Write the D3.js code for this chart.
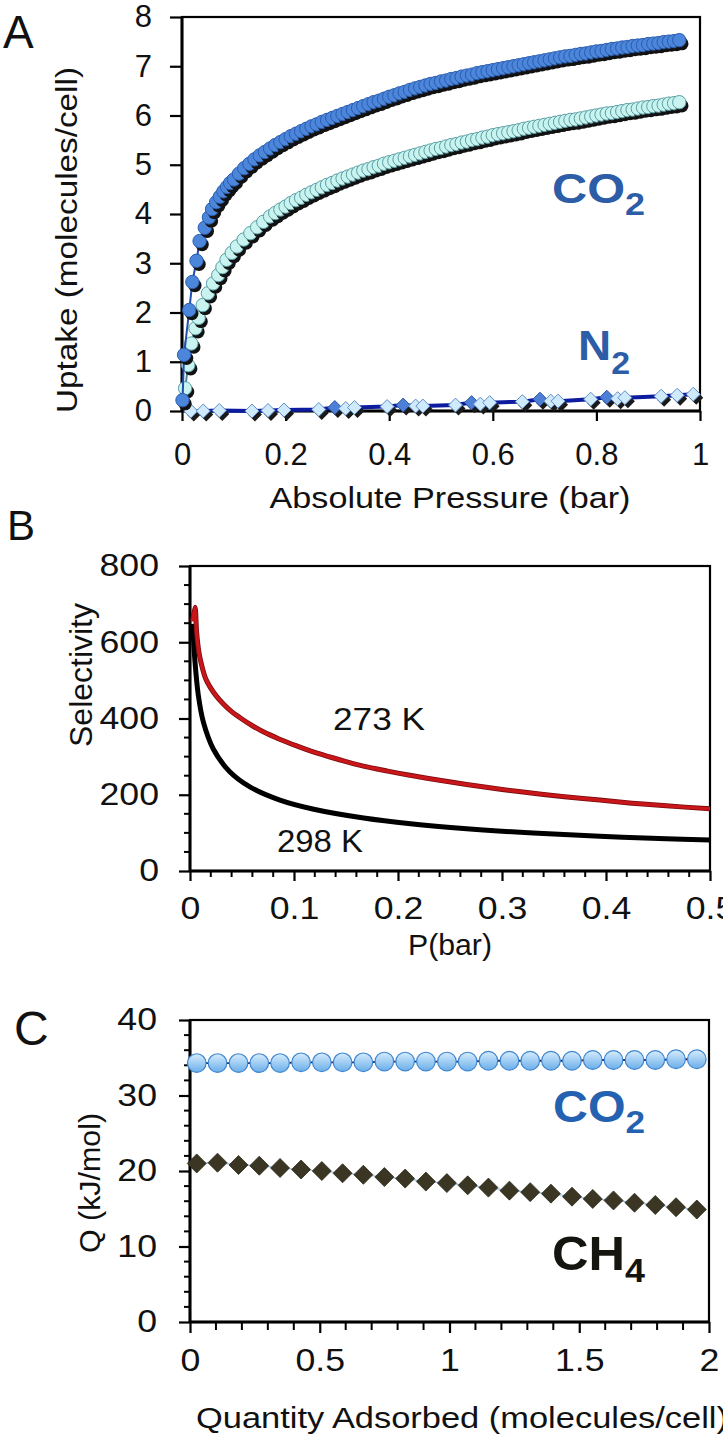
<!DOCTYPE html>
<html><head><meta charset="utf-8">
<script src="https://cdn.jsdelivr.net/npm/d3@7"></script>
<style>
body{margin:0;background:#fff;overflow:hidden}
text{font-family:"Liberation Sans",Arial,Helvetica,sans-serif}
</style></head><body>
<svg id="c" width="723" height="1438"></svg>
<script>
// ---------- DATA ----------
// Panel A: CO2 uptake (molecules/cell) vs absolute pressure (bar)
const co2Blue = [[0.001,0.22],[0.004,1.14],[0.014,2.05],[0.020,2.62],[0.028,3.05],[0.034,3.45],[0.044,3.72],[0.052,3.93],[0.058,4.10],[0.066,4.24],[0.073,4.35],[0.080,4.46],[0.087,4.55],[0.093,4.63],
[0.10,4.70],[0.11,4.82],[0.12,4.93],[0.13,5.02],[0.14,5.11],[0.15,5.19],[0.16,5.26],[0.17,5.33],[0.18,5.40],[0.19,5.46],[0.20,5.52],[0.21,5.58],[0.22,5.63],[0.23,5.68],[0.24,5.73],[0.25,5.78],[0.26,5.82],[0.27,5.87],[0.28,5.91],[0.29,5.95],[0.30,5.99],[0.31,6.03],[0.32,6.07],[0.33,6.11],[0.34,6.15],[0.35,6.19],[0.36,6.23],[0.37,6.27],[0.38,6.30],[0.39,6.34],[0.40,6.38],[0.41,6.41],[0.42,6.45],[0.43,6.48],[0.44,6.52],[0.45,6.55],[0.46,6.58],[0.47,6.61],[0.48,6.64],[0.49,6.66],[0.50,6.69],[0.51,6.71],[0.52,6.74],[0.53,6.76],[0.54,6.79],[0.55,6.81],[0.56,6.83],[0.57,6.86],[0.58,6.88],[0.59,6.90],[0.60,6.92],[0.61,6.94],[0.62,6.96],[0.63,6.98],[0.64,7.00],[0.65,7.02],[0.66,7.04],[0.67,7.06],[0.68,7.08],[0.69,7.10],[0.70,7.12],[0.71,7.14],[0.72,7.16],[0.73,7.18],[0.74,7.20],[0.75,7.21],[0.76,7.23],[0.77,7.25],[0.78,7.26],[0.79,7.28],[0.80,7.30],[0.81,7.31],[0.82,7.33],[0.83,7.35],[0.84,7.36],[0.85,7.38],[0.86,7.39],[0.87,7.41],[0.88,7.42],[0.89,7.43],[0.90,7.45],[0.91,7.46],[0.92,7.47],[0.93,7.49],[0.94,7.50],[0.95,7.51],[0.96,7.53]];
const co2Cyan = [[0.006,0.46],[0.012,0.93],[0.018,1.37],[0.026,1.68],[0.032,1.89],[0.040,2.15],[0.050,2.39],[0.060,2.59],[0.070,2.76],[0.078,2.92],[0.086,3.07],[0.096,3.21],[0.106,3.34],[0.119,3.48],[0.132,3.61],[0.145,3.73],[0.157,3.84],[0.170,3.95],
[0.18,4.02],[0.19,4.09],[0.20,4.15],[0.21,4.22],[0.22,4.28],[0.23,4.33],[0.24,4.39],[0.25,4.44],[0.26,4.49],[0.27,4.54],[0.28,4.59],[0.29,4.63],[0.30,4.68],[0.31,4.72],[0.32,4.76],[0.33,4.80],[0.34,4.84],[0.35,4.88],[0.36,4.91],[0.37,4.95],[0.38,4.98],[0.39,5.02],[0.40,5.05],[0.41,5.08],[0.42,5.11],[0.43,5.14],[0.44,5.17],[0.45,5.20],[0.46,5.23],[0.47,5.26],[0.48,5.29],[0.49,5.32],[0.50,5.34],[0.51,5.37],[0.52,5.40],[0.53,5.42],[0.54,5.45],[0.55,5.47],[0.56,5.50],[0.57,5.52],[0.58,5.55],[0.59,5.57],[0.60,5.60],[0.61,5.62],[0.62,5.64],[0.63,5.66],[0.64,5.68],[0.65,5.70],[0.66,5.73],[0.67,5.75],[0.68,5.77],[0.69,5.79],[0.70,5.81],[0.71,5.83],[0.72,5.85],[0.73,5.87],[0.74,5.89],[0.75,5.91],[0.76,5.92],[0.77,5.94],[0.78,5.96],[0.79,5.98],[0.80,6.00],[0.81,6.02],[0.82,6.04],[0.83,6.05],[0.84,6.07],[0.85,6.09],[0.86,6.11],[0.87,6.12],[0.88,6.14],[0.89,6.16],[0.90,6.17],[0.91,6.19],[0.92,6.20],[0.93,6.22],[0.94,6.24],[0.95,6.25],[0.96,6.27]];
const n2Light = [[0.017,0.00],[0.041,0.00],[0.072,0.01],[0.135,0.00],[0.166,0.01],[0.197,0.02],[0.264,0.03],[0.316,0.05],[0.333,0.07],[0.396,0.09],[0.451,0.10],[0.465,0.10],[0.528,0.12],[0.576,0.14],[0.594,0.17],[0.657,0.19],[0.712,0.20],[0.726,0.20],[0.789,0.24],[0.841,0.25],[0.855,0.27],[0.925,0.30],[0.956,0.32],[0.987,0.34]];
const n2Blue = [[0.295,0.07],[0.427,0.12],[0.559,0.17],[0.691,0.24],[0.820,0.28]];
const ticksAx = [0,0.2,0.4,0.6,0.8,1];
const ticksAy = [0,1,2,3,4,5,6,7,8];

// Panel B: selectivity vs P(bar)
const sel273 = [[0.0025,655],[0.0048,692],[0.0064,625],[0.0085,575],[0.0112,540],[0.015,505],[0.0192,483],[0.025,460],[0.0321,438],[0.040,418],[0.0481,402],[0.060,381],[0.0705,365],[0.085,347],[0.1026,328],[0.120,311],[0.1346,299],[0.150,287],[0.1667,275],[0.190,262],[0.2115,251],[0.240,238],[0.266,227],[0.300,214],[0.330,204],[0.360,195],[0.394,186],[0.425,178],[0.458,171],[0.5,163]];
const sel298 = [[0.0026,648],[0.0048,549],[0.008,461],[0.0128,391],[0.0224,320],[0.038,261],[0.058,220],[0.0865,186],[0.119,162],[0.167,139],[0.212,124],[0.266,111],[0.330,99.6],[0.394,91],[0.458,84.5],[0.5,81]];
const ticksBx = [0,0.1,0.2,0.3,0.4,0.5];
const ticksBy = [0,200,400,600,800];

// Panel C: isosteric heat Q (kJ/mol) vs quantity adsorbed
const qAds = [0.026,0.106,0.187,0.267,0.347,0.428,0.508,0.588,0.668,0.749,0.829,0.909,0.990,1.070,1.150,1.231,1.311,1.391,1.472,1.552,1.632,1.713,1.793,1.873,1.953];
const qCO2 = [34.3,34.3,34.3,34.3,34.3,34.4,34.4,34.4,34.4,34.5,34.5,34.5,34.5,34.5,34.6,34.6,34.6,34.6,34.6,34.7,34.7,34.7,34.7,34.8,34.8];
const qCH4 = [21.0,21.1,20.8,20.7,20.4,20.2,20.0,19.7,19.5,19.2,19.0,18.6,18.4,18.1,17.8,17.4,17.2,17.0,16.6,16.3,16.1,15.8,15.5,15.2,14.9];
const ticksCx = [0,0.5,1,1.5,2];
const ticksCy = [0,10,20,30,40];

// ---------- DRAW ----------
const FONT = '"Liberation Sans",Arial,Helvetica,sans-serif';
const svg = d3.select("#c");
svg.append("rect").attr("width",723).attr("height",1438).attr("fill","#fff");

function styleAxis(g, fs, stretch){
  g.attr("font-family",FONT).attr("font-size",fs);
  g.select(".domain").remove();
  g.selectAll(".tick line").attr("stroke","#000").attr("stroke-width",2.2);
  g.selectAll(".tick text").attr("fill","#111");
  if(stretch){
    g.selectAll(".tick text").each(function(){
      const w = this.getComputedTextLength();
      d3.select(this).attr("textLength", w*stretch).attr("lengthAdjust","spacingAndGlyphs");
    });
  }
}
function frame(g, x, y){
  const [x0,x1]=x.range(), [y0,y1]=y.range();
  g.append("rect").attr("x",x0).attr("y",y1).attr("width",x1-x0).attr("height",y0-y1)
    .attr("fill","none").attr("stroke","#000").attr("stroke-width",2.2);
  g.append("line").attr("x1",x0).attr("x2",x0).attr("y1",y1).attr("y2",y0).attr("stroke","#000").attr("stroke-width",3);
  g.append("line").attr("x1",x0).attr("x2",x1).attr("y1",y0).attr("y2",y0).attr("stroke","#000").attr("stroke-width",3);
}
function minor(g, scale, vals, orient, pos, len){
  vals.forEach(v=>{
    const p = scale(v);
    if(orient==="left") g.append("line").attr("x1",pos-len).attr("x2",pos).attr("y1",p).attr("y2",p).attr("stroke","#000").attr("stroke-width",2);
    else g.append("line").attr("x1",p).attr("x2",p).attr("y1",pos).attr("y2",pos+len).attr("stroke","#000").attr("stroke-width",2);
  });
}
function txt(g, x, y, s, fs, opts={}){
  const t = g.append("text").attr("x",x).attr("y",y).attr("font-size",fs).attr("fill",opts.fill||"#111")
    .attr("text-anchor",opts.anchor||"start").text(s);
  if(opts.len) t.attr("textLength",opts.len).attr("lengthAdjust","spacingAndGlyphs");
  if(opts.weight) t.attr("font-weight",opts.weight);
  if(opts.rot) t.attr("transform",`rotate(-90,${x},${y})`);
  return t;
}
function chem(g, x, y, main, sub, fs, sfs, dy, len, fill){
  const t = g.append("text").attr("x",x).attr("y",y).attr("font-size",fs).attr("font-weight","bold").attr("fill",fill);
  t.append("tspan").text(main);
  t.append("tspan").attr("font-size",sfs).attr("dy",dy).text(sub);
  if(len) t.attr("textLength",len).attr("lengthAdjust","spacingAndGlyphs");
}

// ===== Panel A =====
const xA = d3.scaleLinear().domain([0,1]).range([182,700]);
const yA = d3.scaleLinear().domain([0,8]).range([411,17]);
const gA = svg.append("g");
frame(gA,xA,yA);
gA.append("g").attr("transform",`translate(${xA(0)},0)`)
  .call(d3.axisLeft(yA).tickValues(ticksAy).tickSize(12).tickPadding(18).tickFormat(d=>d))
  .call(g=>styleAxis(g,31));
gA.append("g").attr("transform",`translate(0,${yA(0)})`)
  .call(d3.axisBottom(xA).tickValues(ticksAx).tickSize(10).tickPadding(22).tickFormat(d=>d))
  .call(g=>styleAxis(g,31));

const lineA = d3.line().x(d=>xA(d[0])).y(d=>yA(d[1]));
function circles(g, data, fill, stroke, lineColor){
  g.append("path").datum(data).attr("d",lineA).attr("fill","none").attr("stroke",lineColor).attr("stroke-width",2);
  const m = g.append("g").selectAll("g").data(data).join("g").attr("transform",d=>`translate(${xA(d[0])},${yA(d[1])})`);
  m.append("circle").attr("cx",2.5).attr("cy",3.5).attr("r",6.7).attr("fill","#121212");
  m.append("circle").attr("r",6.7).attr("fill",fill).attr("stroke",stroke).attr("stroke-width",1);
}
const n2All = n2Light.concat(n2Blue).sort((a,b)=>a[0]-b[0]);
gA.append("path").datum(n2All).attr("d",lineA).attr("fill","none").attr("stroke","#0d1b9e").attr("stroke-width",4);
const dia = "M0,-7L7,0L0,7L-7,0Z";
function diamonds(data, fill, stroke){
  const m = gA.append("g").selectAll("g").data(data).join("g").attr("transform",d=>`translate(${xA(d[0])},${yA(d[1])})`);
  m.append("path").attr("d",dia).attr("transform","translate(3,3.5)").attr("fill","#1a1a1a");
  m.append("path").attr("d",dia).attr("fill",fill).attr("stroke",stroke).attr("stroke-width",1);
}
diamonds(n2Blue,"#4d7fd6","#2a55a8");
diamonds(n2Light,"#cfeafc","#5f8fc8");
circles(gA, co2Cyan, "#c8f3ee", "#5a9ea6", "#4a8a96");
circles(gA, co2Blue, "#4c86da", "#2a5cb0", "#1f4fb0");

chem(gA, 552, 203, "CO", "2", 42, 31, 12, 93, "#2c5da6");
chem(gA, 578, 360, "N", "2", 42, 31, 14, 52, "#2c5da6");
txt(gA, 3, 48, "A", 46);
txt(gA, 77, 240, "Uptake (molecules/cell)", 30, {anchor:"middle", rot:true, len:346});
txt(gA, 450, 508, "Absolute Pressure (bar)", 29, {anchor:"middle", len:361});

// ===== Panel B =====
const xB = d3.scaleLinear().domain([0,0.5]).range([190,710]);
const yB = d3.scaleLinear().domain([0,800]).range([871,566]);
const gB = svg.append("g");
frame(gB,xB,yB);
minor(gB, yB, d3.range(50,800,50).filter(v=>v%200!==0), "left", xB(0), 6);
minor(gB, xB, d3.range(0.02,0.5,0.02).filter(v=>Math.abs(v*10-Math.round(v*10))>1e-6), "bottom", yB(0), 6);
gB.append("g").attr("transform",`translate(${xB(0)},0)`)
  .call(d3.axisLeft(yB).tickValues(ticksBy).tickSize(11).tickPadding(20).tickFormat(d=>d))
  .call(g=>styleAxis(g,31,1.15));
gB.append("g").attr("transform",`translate(0,${yB(0)})`)
  .call(d3.axisBottom(xB).tickValues(ticksBx).tickSize(10).tickPadding(16).tickFormat(d=>d))
  .call(g=>styleAxis(g,31,1.15));
const lineB = d3.line().x(d=>xB(d[0])).y(d=>yB(d[1])).curve(d3.curveCatmullRom.alpha(0.5));
gB.append("path").datum(sel298).attr("d",lineB).attr("fill","none").attr("stroke","#000").attr("stroke-width",5).attr("stroke-linejoin","round");
gB.append("path").datum(sel273).attr("d",lineB).attr("fill","none").attr("stroke","#7a0c0c").attr("stroke-width",5).attr("stroke-linejoin","round");
gB.append("path").datum(sel273).attr("d",lineB).attr("fill","none").attr("stroke","#c8161b").attr("stroke-width",3.4).attr("stroke-linejoin","round");
txt(gB, 333, 730, "273 K", 32, {len:92});
txt(gB, 277, 852, "298 K", 32, {len:86});
txt(gB, 7, 540, "B", 42);
txt(gB, 92, 675, "Selectivity", 32, {anchor:"middle", rot:true, len:144});
txt(gB, 450, 955, "P(bar)", 29, {anchor:"middle", len:84});

// ===== Panel C =====
const xC = d3.scaleLinear().domain([0,2]).range([190,709]);
const yC = d3.scaleLinear().domain([0,40]).range([1322,1020]);
const gC = svg.append("g");
frame(gC,xC,yC);
minor(gC, yC, d3.range(2,40,2).filter(v=>v%10!==0), "left", xC(0), 6);
minor(gC, xC, d3.range(0.1,2,0.1).filter(v=>Math.abs(v*2-Math.round(v*2))>1e-6), "bottom", yC(0), 8);
gC.append("g").attr("transform",`translate(${xC(0)},0)`)
  .call(d3.axisLeft(yC).tickValues(ticksCy).tickSize(11).tickPadding(22).tickFormat(d=>d))
  .call(g=>styleAxis(g,31,1.15));
gC.append("g").attr("transform",`translate(0,${yC(0)})`)
  .call(d3.axisBottom(xC).tickValues(ticksCx).tickSize(11).tickPadding(16).tickFormat(d=>d))
  .call(g=>styleAxis(g,31,1.15));
const defs = svg.append("defs");
const grad = defs.append("linearGradient").attr("id","gC").attr("x1",0).attr("y1",0).attr("x2",0).attr("y2",1);
grad.append("stop").attr("offset","0%").attr("stop-color","#d6ecfc");
grad.append("stop").attr("offset","100%").attr("stop-color","#6aaeea");
const co2C = qAds.map((q,i)=>[q,qCO2[i]]);
const ch4C = qAds.map((q,i)=>[q,qCH4[i]]);
const lineC = d3.line().x(d=>xC(d[0])).y(d=>yC(d[1]));
gC.append("path").datum(ch4C).attr("d",lineC).attr("fill","none").attr("stroke","#8fbde6").attr("stroke-width",1.2);
gC.selectAll(".ch4").data(ch4C).join("path").attr("class","ch4")
  .attr("d","M0,-9.5L9.5,0L0,9.5L-9.5,0Z").attr("transform",d=>`translate(${xC(d[0])},${yC(d[1])})`)
  .attr("fill","#3a3623").attr("stroke","#2a2818").attr("stroke-width",0.8);
gC.append("path").datum(co2C).attr("d",lineC).attr("fill","none").attr("stroke","#0d2670").attr("stroke-width",1.8);
gC.selectAll(".co2").data(co2C).join("circle").attr("class","co2")
  .attr("cx",d=>xC(d[0])).attr("cy",d=>yC(d[1])).attr("r",9.3)
  .attr("fill","url(#gC)").attr("stroke","#3f86cf").attr("stroke-width",1.2);
chem(gC, 553, 1122, "CO", "2", 44, 32, 11, 92, "#2461b0");
chem(gC, 552, 1270, "CH", "4", 48, 34, 12, 93, "#15150f");
txt(gC, 14, 1045, "C", 48);
txt(gC, 100, 1183, "Q (kJ/mol)", 30, {anchor:"middle", rot:true, len:140});
txt(gC, 196, 1428, "Quantity Adsorbed  (molecules/cell)", 29, {len:532});
</script>
</body></html>
